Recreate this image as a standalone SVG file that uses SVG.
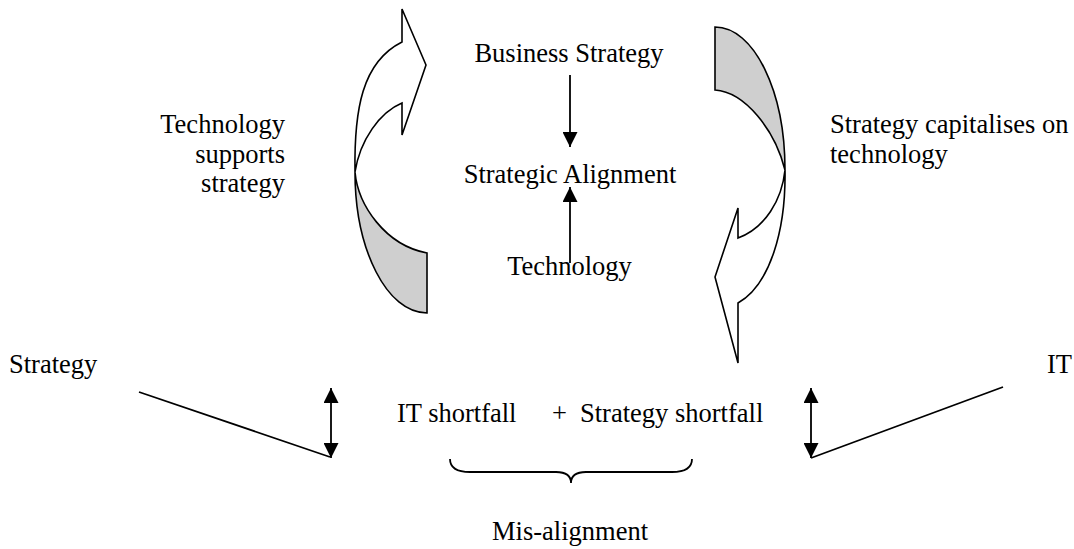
<svg xmlns="http://www.w3.org/2000/svg" width="1074" height="549" viewBox="0 0 1074 549">
<style>
text{font-family:"Liberation Serif","Times New Roman",serif;font-size:26.5px;fill:#000}
.sh{stroke:#000;stroke-width:1.6;stroke-linejoin:miter}
.g{fill:#cfcfcf}
.w{fill:#fff}
.ln{stroke:#000;stroke-width:1.8;fill:none}
</style>
<defs>
<marker id="ah" markerUnits="userSpaceOnUse" viewBox="0 0 15 15" refX="15" refY="7.5" markerWidth="15" markerHeight="15" orient="auto-start-reverse">
<path d="M0,0 L15,7.5 L0,15 Z" fill="#000"/>
</marker>
</defs>
<rect width="1074" height="549" fill="#fff"/>

<g id="left-curved-arrow">
<path class="sh g" d="M355,172 C355,250 387,313 427,313 L427,253 C385,245 358,205 355,172 Z"/>
<path class="sh w" d="M355,172 C354,110 362,62 402,42 L402,9 L426,65 L402,135 L402,103 C380,112 360,140 355,172 Z"/>
</g>

<g id="right-curved-arrow">
<path class="sh g" d="M715,27 C754,27 785,91 785,170 C775,130 745,92 715,90 Z"/>
<path class="sh w" d="M785,170 C786,230 770,285 738,303 L738,363 L715,277 L738,208 L738,238 C765,228 782,200 785,170 Z"/>
</g>

<g id="business-strategy"><text x="569" y="62" text-anchor="middle">Business Strategy</text></g>
<g id="strategic-alignment"><text x="570" y="183" text-anchor="middle">Strategic Alignment</text></g>
<g id="technology"><text x="569.5" y="275" text-anchor="middle">Technology</text></g>

<g id="tech-supports-strategy">
<text x="285" y="133" text-anchor="end">Technology</text>
<text x="285" y="162.5" text-anchor="end">supports</text>
<text x="285" y="192" text-anchor="end">strategy</text>
</g>
<g id="strategy-capitalises">
<text x="830" y="133">Strategy capitalises on</text>
<text x="830" y="163">technology</text>
</g>

<g id="strategy"><text x="9" y="373">Strategy</text></g>
<g id="it"><text x="1047" y="373">IT</text></g>
<g id="shortfalls">
<text x="397" y="422">IT shortfall</text>
<text x="552" y="422">+</text>
<text x="580" y="422">Strategy shortfall</text>
</g>
<g id="misalignment"><text x="570" y="540" text-anchor="middle">Mis-alignment</text></g>

<g id="connectors">
<line class="ln" x1="570" y1="75" x2="570" y2="147" marker-end="url(#ah)"/>
<line class="ln" x1="570" y1="263" x2="570" y2="187" marker-end="url(#ah)"/>
<line class="ln" x1="331" y1="388" x2="331" y2="458" marker-start="url(#ah)" marker-end="url(#ah)"/>
<line class="ln" x1="811" y1="388" x2="811" y2="458" marker-start="url(#ah)" marker-end="url(#ah)"/>
<line class="ln" x1="139" y1="392" x2="330" y2="457"/>
<line class="ln" x1="811" y1="458" x2="1003" y2="387"/>
<path class="ln" d="M450,459 C450,468 458,472 470,472 L556,472 C566,472 571,476 571,483 C571,476 576,472 586,472 L672,472 C684,472 692,468 692,459"/>
</g>
</svg>
